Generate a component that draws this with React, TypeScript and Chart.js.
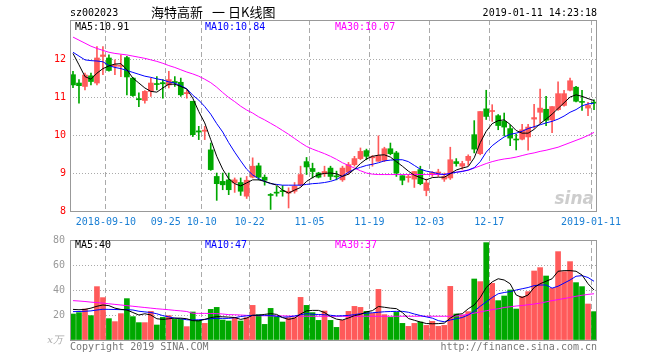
import React, { useEffect, useRef } from "react";
import { Chart, registerables } from "chart.js";
Chart.register(...registerables);

const dates = [
  "2018-08-31",
  "2018-09-03", "2018-09-04", "2018-09-05", "2018-09-06", "2018-09-07",
  "2018-09-10", "2018-09-11", "2018-09-12", "2018-09-13", "2018-09-14",
  "2018-09-17", "2018-09-18", "2018-09-19", "2018-09-20", "2018-09-21",
  "2018-09-25", "2018-09-26", "2018-09-27", "2018-09-28",
  "2018-10-08", "2018-10-09", "2018-10-10", "2018-10-11", "2018-10-12",
  "2018-10-15", "2018-10-16", "2018-10-17", "2018-10-18", "2018-10-19",
  "2018-10-22", "2018-10-23", "2018-10-24", "2018-10-25", "2018-10-26",
  "2018-10-29", "2018-10-30", "2018-10-31", "2018-11-01", "2018-11-02",
  "2018-11-05", "2018-11-06", "2018-11-07", "2018-11-08", "2018-11-09",
  "2018-11-12", "2018-11-13", "2018-11-14", "2018-11-15", "2018-11-16",
  "2018-11-19", "2018-11-20", "2018-11-21", "2018-11-22", "2018-11-23",
  "2018-11-26", "2018-11-27", "2018-11-28", "2018-11-29", "2018-11-30",
  "2018-12-03", "2018-12-04", "2018-12-05", "2018-12-06", "2018-12-07",
  "2018-12-10", "2018-12-11", "2018-12-12", "2018-12-13", "2018-12-14",
  "2018-12-17", "2018-12-18", "2018-12-19", "2018-12-20", "2018-12-21",
  "2018-12-24", "2018-12-25", "2018-12-26", "2018-12-27", "2018-12-28",
  "2019-01-02", "2019-01-03", "2019-01-04",
  "2019-01-07", "2019-01-08", "2019-01-09", "2019-01-10", "2019-01-11",
];

const axisDates = ["2018-09-10", "2018-09-25", "2018-10-10", "2018-10-22", "2018-11-05", "2018-11-19", "2018-12-03", "2018-12-17", "2019-01-11"];
const axisLabels = ["2018-09-10", "09-25", "10-10", "10-22", "11-05", "11-19", "12-03", "12-17", "2019-01-11"];

const opens = [
  11.59, 11.37, 11.28, 11.56, 11.37, 12.07, 12.03, 11.81, 11.81, 12.04,
  11.50, 10.96, 10.91, 11.15, 11.35, 11.38, 11.32, 11.41, 11.39, 11.09,
  10.89, 10.11, 10.10, 9.61, 8.91, 8.78, 8.82, 8.74, 8.75, 8.39,
  8.89, 9.19, 8.89, 8.43, 8.49, 8.53, 8.47, 8.52, 8.69, 9.30,
  9.12, 9.00, 8.98, 9.13, 8.92, 8.82, 9.02, 9.22, 9.38, 9.59,
  9.40, 9.31, 9.33, 9.64, 9.53, 8.93, 8.88, 8.84, 9.09, 8.54,
  8.98, 9.00, 8.84, 8.87, 9.30, 9.18, 9.33, 10.01, 9.51, 10.69,
  10.62, 10.51, 10.36, 10.17, 9.89, 9.89, 9.95, 10.42, 10.60, 10.68,
  10.40, 10.67, 10.78, 11.18, 11.26, 10.88, 10.71, 10.86,
];
const closes = [
  11.32, 11.30, 11.58, 11.41, 12.03, 12.11, 11.70, 11.85, 11.83, 11.53,
  11.04, 10.93, 11.15, 11.37, 11.33, 11.35, 11.46, 11.38, 11.06, 11.12,
  10.01, 10.08, 10.13, 9.09, 8.72, 8.69, 8.56, 8.82, 8.52, 8.81,
  9.18, 8.89, 8.81, 8.41, 8.47, 8.51, 8.52, 8.65, 8.96, 9.16,
  9.04, 8.89, 9.04, 8.91, 8.90, 9.13, 9.22, 9.38, 9.57, 9.44,
  9.42, 9.46, 9.64, 9.51, 9.00, 8.81, 8.90, 9.04, 8.72, 8.74,
  9.01, 9.02, 8.91, 9.35, 9.25, 9.25, 9.44, 9.63, 10.62, 10.49,
  10.64, 10.25, 10.21, 9.92, 9.87, 10.14, 10.21, 10.46, 10.71, 10.39,
  10.75, 11.09, 11.09, 11.43, 10.89, 10.86, 10.78, 10.84,
];
const highs = [
  11.68, 11.46, 11.63, 11.63, 12.33, 12.33, 12.11, 11.98, 12.11, 12.07,
  11.52, 11.11, 11.17, 11.50, 11.54, 11.46, 11.68, 11.54, 11.50, 11.19,
  10.89, 10.23, 10.23, 9.79, 9.00, 9.00, 9.00, 8.87, 8.87, 8.91,
  9.40, 9.26, 8.95, 8.46, 8.65, 8.67, 8.61, 8.75, 9.18, 9.41,
  9.26, 9.02, 9.18, 9.18, 9.05, 9.18, 9.28, 9.44, 9.66, 9.63,
  9.46, 9.98, 9.68, 9.79, 9.57, 8.93, 8.96, 9.04, 9.18, 8.84,
  9.04, 9.10, 9.00, 9.68, 9.38, 9.31, 9.48, 10.38, 10.62, 11.18,
  10.80, 10.54, 10.58, 10.27, 10.02, 10.28, 10.28, 10.81, 11.21, 11.02,
  10.75, 11.40, 11.18, 11.50, 11.28, 11.18, 10.86, 10.93,
];
const lows = [
  11.25, 10.84, 11.19, 11.32, 11.32, 11.59, 11.68, 11.59, 11.54, 11.06,
  11.02, 10.75, 10.84, 11.02, 11.19, 10.97, 11.24, 11.28, 11.02, 10.97,
  9.96, 9.88, 9.88, 9.07, 8.28, 8.56, 8.43, 8.49, 8.41, 8.33,
  8.87, 8.82, 8.68, 8.04, 8.39, 8.39, 8.08, 8.47, 8.65, 8.96,
  8.87, 8.87, 8.91, 8.82, 8.82, 8.78, 8.96, 9.18, 9.35, 9.35,
  9.18, 9.31, 9.30, 9.48, 8.91, 8.69, 8.76, 8.62, 8.69, 8.40,
  8.91, 8.91, 8.78, 8.83, 9.18, 9.10, 9.20, 9.53, 9.48, 10.41,
  10.36, 10.14, 9.98, 9.72, 9.61, 9.87, 9.60, 10.18, 10.32, 10.25,
  10.06, 10.65, 10.76, 11.16, 10.87, 10.65, 10.51, 10.67,
];

const ma5 = [
  12.15, 11.85, 11.54, 11.47, 11.63, 11.75, 11.82, 11.87, 11.88, 11.72,
  11.50, 11.37, 11.24, 11.15, 11.13, 11.24, 11.34, 11.34, 11.28, 11.21,
  10.97, 10.62, 10.32, 9.88, 9.44, 9.10, 8.85, 8.72, 8.66, 8.74,
  8.82, 8.82, 8.78, 8.73, 8.68, 8.55, 8.47, 8.55, 8.62, 8.78,
  8.88, 8.96, 8.99, 9.00, 8.98, 8.91, 8.97, 9.10, 9.25, 9.37,
  9.44, 9.47, 9.48, 9.42, 9.30, 9.18, 9.05, 8.94, 8.88, 8.82,
  8.88, 8.89, 8.89, 8.98, 9.08, 9.13, 9.17, 9.40, 9.80, 10.10,
  10.30, 10.38, 10.40, 10.28, 10.12, 10.05, 10.05, 10.15, 10.30, 10.42,
  10.55, 10.70, 10.85, 11.00, 11.06, 11.02, 10.96, 10.91,
];
const ma10 = [
  12.18, 12.08, 11.98, 11.96, 11.95, 11.93, 11.83, 11.78, 11.75, 11.70,
  11.65, 11.60, 11.55, 11.52, 11.48, 11.45, 11.40, 11.37, 11.30, 11.22,
  11.05, 10.92, 10.75, 10.55, 10.30, 10.08, 9.80, 9.55, 9.32, 9.10,
  8.95, 8.85, 8.78, 8.72, 8.70, 8.68, 8.68, 8.68, 8.68, 8.70,
  8.72, 8.73, 8.75, 8.78, 8.83, 8.92, 9.02, 9.10, 9.15, 9.20,
  9.23, 9.27, 9.32, 9.34, 9.35, 9.35, 9.30, 9.20, 9.10, 9.05,
  9.02, 8.98, 8.96, 8.99, 9.02, 9.04, 9.08, 9.14, 9.30, 9.55,
  9.72, 9.84, 9.95, 10.02, 10.05, 10.10, 10.17, 10.22, 10.27, 10.32,
  10.36, 10.42, 10.50, 10.60, 10.67, 10.77, 10.82, 10.84,
];
const ma30 = [
  12.58, 12.50, 12.42, 12.34, 12.28, 12.23, 12.18, 12.15, 12.13, 12.11,
  12.08, 12.05, 12.02, 11.98, 11.94, 11.89, 11.83, 11.78, 11.72, 11.66,
  11.61, 11.55, 11.47, 11.38, 11.26, 11.12, 10.99, 10.88, 10.76, 10.66,
  10.58, 10.48, 10.40, 10.31, 10.22, 10.12, 10.02, 9.91, 9.80, 9.70,
  9.63, 9.57, 9.51, 9.44, 9.36, 9.27, 9.20, 9.13, 9.06, 9.00,
  8.97, 8.96, 8.96, 8.96, 8.96, 8.96, 8.96, 8.96, 8.96, 8.96,
  8.96, 8.96, 8.96, 9.00, 9.02, 9.05, 9.07, 9.13, 9.19, 9.25,
  9.30, 9.34, 9.37, 9.39, 9.42, 9.46, 9.50, 9.53, 9.57, 9.60,
  9.64, 9.68, 9.74, 9.80, 9.86, 9.92, 9.99, 10.07,
];

const volumes = [
  20.8, 21.9, 24.8, 19.5, 42.7, 33.9, 17.1, 14.7, 21.1, 33.1,
  18.7, 13.9, 13.9, 22.9, 12.0, 18.1, 19.5, 16.5, 16.5, 10.7,
  22.4, 15.7, 13.3, 24.5, 26.1, 16.0, 15.2, 17.9, 15.2, 17.9,
  27.7, 20.3, 12.5, 25.3, 18.7, 14.4, 17.9, 17.9, 34.1, 27.7,
  21.9, 15.7, 23.2, 15.7, 10.1, 15.7, 22.9, 26.9, 26.1, 22.9,
  21.3, 40.5, 20.3, 18.1, 22.1, 13.3, 10.9, 13.3, 14.4, 11.7,
  14.9, 10.9, 11.7, 42.9, 20.8, 20.0, 22.7, 48.8, 46.7, 77.9,
  45.3, 31.5, 35.2, 40.0, 24.8, 34.7, 38.7, 55.2, 57.9, 51.2,
  41.3, 70.7, 54.7, 62.7, 45.9, 42.7, 28.8, 22.7,
];
const volMa5 = [
  24.5, 24.2, 24.5, 25.5, 27, 28, 27.5, 25.5, 24.5, 24,
  22, 20, 21, 20, 17, 16.5, 17, 17.5, 17.5, 17,
  15.5, 15.3, 16.5, 17.9, 18.7, 18.6, 18.3, 18.0, 16.5, 17.5,
  19.8, 19.8, 20.5, 21.1, 20.5, 17.9, 16.5, 17.5, 20.8, 23.3,
  23.7, 23.7, 22.0, 18.8, 16.7, 16.0, 17.6, 19.5, 20.5, 22.5,
  23.5, 26.8, 26.2, 25.5, 25.1, 22.0, 17.2, 15.8, 14.4, 13.2,
  13.0, 13.1, 13.5, 17.5, 20.5, 21, 25, 28, 34, 42,
  46.5, 49, 48, 45, 36, 34, 36, 42, 45, 47,
  49, 55, 55.5, 55.5, 55, 52, 45, 40,
];
const volMa10 = [
  22.7, 22.8, 23, 23.3, 24, 24.6, 24.5, 24.4, 24.3, 24.3,
  24, 23, 22.5, 22, 21, 19.5, 18.5, 17.5, 17, 16.2,
  16, 16.2, 16.5, 17, 17.3, 17.3, 17.3, 17.8, 18.8, 19.3,
  19.7, 19.8, 19.8, 19.6, 19, 18.2, 18.5, 19.2, 20.2, 21.1,
  20.6, 20.4, 20.2, 19.8, 19.2, 19.4, 19.7, 20.3, 21, 21.4,
  21.8, 22.2, 22.6, 22.8, 22.9, 22.9, 22.2, 20.8, 19.6, 18.5,
  17.5, 15.5, 14.6, 16, 17, 18, 20, 23, 27, 30.5,
  34, 37, 38, 38.7, 40, 41, 42, 43.5, 44, 44,
  41.5, 43, 45.5, 48, 51, 51.5, 50, 47,
];
const volMa30 = [
  31.5, 31.2, 30.8, 30.3, 29.9, 29.5, 29, 28.5, 28, 27.5,
  27, 26.5, 26, 25.5, 25, 24.6, 24.2, 23.7, 23.3, 22.8,
  21.4, 21.3, 21.3, 21.2, 21.1, 20.8, 20.3, 20.2, 20.0, 19.7,
  19.5, 19.4, 19.4, 19.3, 19.3, 19.3, 19.2, 19.1, 19.0, 19.0,
  19.0, 19.0, 19.0, 19.0, 19.0, 19.0, 19.0, 19.0, 19.0, 19.0,
  19.0, 19.0, 19.0, 19.0, 19.0, 19.0, 19.0, 19.0, 19.0, 19.0,
  19.0, 19.0, 19.0, 19.0, 19.2, 19.8, 20.6, 21.5, 22.5, 23.4,
  24.3, 25, 26, 26.6, 27.2, 27.6, 28.2, 28.8, 29.5, 30.5,
  31.5, 32.3, 33.2, 34, 35, 35.8, 36.5, 37,
];

const priceTicks = [8, 9, 10, 11, 12];
const volTicks = [0, 20, 40, 60, 80];

const UP = "#ff5a5a";
const DOWN = "#00a800";
const MONO = "'DejaVu Sans Mono', 'Liberation Mono', monospace";
const GRID = "#aaaaaa";
const FRAME = "#999999";

function xAxis(showLabels: boolean, height: number) {
  const gridIdx = axisDates.map((d) => dates.indexOf(d));
  return {
    type: "category" as const,
    offset: true,
    grid: {
      offset: true,
      drawTicks: false,
      lineWidth: 1,
      color: (ctx: any) => (gridIdx.includes(ctx.index) ? GRID : "rgba(0,0,0,0)"),
    },
    border: { display: false, dash: [5, 3] },
    ticks: {
      display: showLabels,
      autoSkip: false,
      maxRotation: 0,
      minRotation: 0,
      padding: 5,
      labelOffset: -3,
      color: "#1a7fd4",
      font: { family: MONO, size: 10 },
      callback: (_v: any, i: number) => {
        const k = axisDates.indexOf(dates[i]);
        return k >= 0 ? axisLabels[k] : "";
      },
    },
    afterFit: (s: any) => {
      s.height = height;
      s.paddingLeft = 0;
      s.paddingRight = 0;
    },
  };
}

function frameAndText(id: string, draw: (ctx: CanvasRenderingContext2D, chart: any) => void) {
  return {
    id,
    afterDraw(chart: any) {
      const { ctx, chartArea } = chart;
      const { left, top, right, bottom } = chartArea;
      ctx.save();
      ctx.strokeStyle = FRAME;
      ctx.lineWidth = 1;
      ctx.strokeRect(Math.round(left) + 0.5, Math.round(top) + 0.5, Math.round(right - left) - 1, Math.round(bottom - top));
      draw(ctx, chart);
      ctx.restore();
    },
  };
}

export default function App() {
  const priceRef = useRef<HTMLCanvasElement>(null);
  const volRef = useRef<HTMLCanvasElement>(null);

  useEffect(() => {
    const up = closes.map((c, i) => c >= opens[i]);
    const colors = up.map((u) => (u ? UP : DOWN));
    const last = dates.length - 1;

    const lineDs = (label: string, data: number[], color: string) => ({
      type: "line" as const,
      label,
      data,
      borderColor: color,
      borderWidth: 1,
      pointRadius: 0,
      tension: 0,
      fill: false,
      order: 0,
    });

    const priceChart = new Chart(priceRef.current!, {
      type: "bar",
      data: {
        labels: dates,
        datasets: [
          lineDs("MA5", ma5, "#000000"),
          lineDs("MA10", ma10, "#0000ff"),
          lineDs("MA30", ma30, "#ff00ff"),
          {
            type: "bar",
            label: "body",
            data: opens.map((o, i) => [o, closes[i]]) as any,
            backgroundColor: colors,
            barThickness: 5,
            minBarLength: 1,
            grouped: false,
            order: 1,
          } as any,
          {
            type: "bar",
            label: "wick",
            data: lows.map((l, i) => [l, highs[i]]) as any,
            backgroundColor: colors,
            barThickness: 1,
            grouped: false,
            order: 2,
          } as any,
        ],
      },
      options: {
        animation: false,
        responsive: false,
        devicePixelRatio: 1,
        layout: { padding: { top: 20, right: 63, left: 0, bottom: 0 } },
        plugins: { legend: { display: false }, tooltip: { enabled: false } },
        scales: {
          x: xAxis(true, 21) as any,
          y: {
            min: 8,
            max: 13.03,
            afterBuildTicks: (s: any) => {
              s.ticks = priceTicks.map((v) => ({ value: v }));
            },
            grid: {
              drawTicks: false,
              color: (ctx: any) => (ctx.tick && ctx.tick.value > priceTicks[0] ? GRID : "rgba(0,0,0,0)"),
            },
            border: { display: false, dash: [1, 2] },
            ticks: {
              padding: 4,
              color: "#ff0000",
              font: { family: MONO, size: 10 },
              callback: (v: any) => String(v),
            },
            afterFit: (s: any) => {
              s.width = 70;
              s.paddingTop = 0;
              s.paddingBottom = 0;
            },
          },
        },
      },
      plugins: [
        frameAndText("priceText", (ctx) => {
          ctx.textBaseline = "middle";
          ctx.font = `10px ${MONO}`;
          ctx.fillStyle = "#000";
          ctx.textAlign = "left";
          ctx.fillText("sz002023", 70, 13);
          ctx.textAlign = "right";
          ctx.fillText("2019-01-11 14:23:18", 597, 13);
          ctx.textAlign = "left";
          ctx.font = "13px 'Noto Sans CJK SC'";
          ctx.fillText("海特高新", 151, 12);
          ctx.fillText("一", 212, 12);
          ctx.fillText("日K线图", 228, 12);
          ctx.font = `10px ${MONO}`;
          ctx.fillStyle = "#000000";
          ctx.fillText("MA5:" + ma5[last].toFixed(2), 75, 27);
          ctx.fillStyle = "#0000ff";
          ctx.fillText("MA10:" + ma10[last].toFixed(2), 205, 27);
          ctx.fillStyle = "#ff00ff";
          ctx.fillText("MA30:" + ma30[last].toFixed(2), 335, 27);
          ctx.font = `italic bold 17px 'DejaVu Sans', sans-serif`;
          ctx.fillStyle = "rgba(200,200,200,0.9)";
          ctx.textAlign = "right";
          ctx.fillText("sina", 594, 200);
        }),
      ],
    });

    const volChart = new Chart(volRef.current!, {
      type: "bar",
      data: {
        labels: dates,
        datasets: [
          lineDs("MA5", volMa5, "#000000"),
          lineDs("MA10", volMa10, "#0000ff"),
          lineDs("MA30", volMa30, "#ff00ff"),
          {
            type: "bar",
            label: "volume",
            data: volumes,
            backgroundColor: colors,
            barThickness: 5,
            grouped: false,
            order: 1,
          } as any,
        ],
      },
      options: {
        animation: false,
        responsive: false,
        devicePixelRatio: 1,
        layout: { padding: { top: 8, right: 63, left: 0, bottom: 0 } },
        plugins: { legend: { display: false }, tooltip: { enabled: false } },
        scales: {
          x: xAxis(false, 20) as any,
          y: {
            min: 0,
            max: 80,
            afterBuildTicks: (s: any) => {
              s.ticks = volTicks.map((v) => ({ value: v }));
            },
            grid: {
              drawTicks: false,
              color: (ctx: any) =>
                ctx.tick && ctx.tick.value > 0 && ctx.tick.value < 80 ? GRID : "rgba(0,0,0,0)",
            },
            border: { display: false, dash: [1, 2] },
            ticks: {
              padding: 5,
              color: "#999999",
              font: { family: MONO, size: 10 },
              callback: (v: any) => (v === 0 ? "" : String(v)),
            },
            afterFit: (s: any) => {
              s.width = 70;
              s.paddingTop = 0;
              s.paddingBottom = 0;
            },
          },
        },
      },
      plugins: [
        frameAndText("volText", (ctx) => {
          ctx.textBaseline = "middle";
          ctx.textAlign = "left";
          ctx.font = `10px ${MONO}`;
          ctx.fillStyle = "#000000";
          ctx.fillText("MA5:" + Math.round(volMa5[last]), 75, 13);
          ctx.fillStyle = "#0000ff";
          ctx.fillText("MA10:" + Math.round(volMa10[last]), 205, 13);
          ctx.fillStyle = "#ff00ff";
          ctx.fillText("MA30:" + Math.round(volMa30[last]), 335, 13);
          ctx.fillStyle = "#777777";
          ctx.fillText("Copyright 2019 SINA.COM", 70, 115);
          ctx.textAlign = "right";
          ctx.fillText("http://finance.sina.com.cn", 597, 115);
          ctx.fillStyle = "#aaaaaa";
          ctx.font = `italic 10px 'DejaVu Serif', serif`;
          ctx.fillText("x万", 63, 108);
        }),
      ],
    });

    return () => {
      priceChart.destroy();
      volChart.destroy();
    };
  }, []);

  return (
    <div style={{ position: "fixed", left: 0, top: 0, width: 660, height: 360, background: "#fff" }}>
      <canvas ref={priceRef} width={660} height={232} style={{ position: "absolute", left: 0, top: 0 }} />
      <canvas ref={volRef} width={660} height={128} style={{ position: "absolute", left: 0, top: 232 }} />
    </div>
  );
}
